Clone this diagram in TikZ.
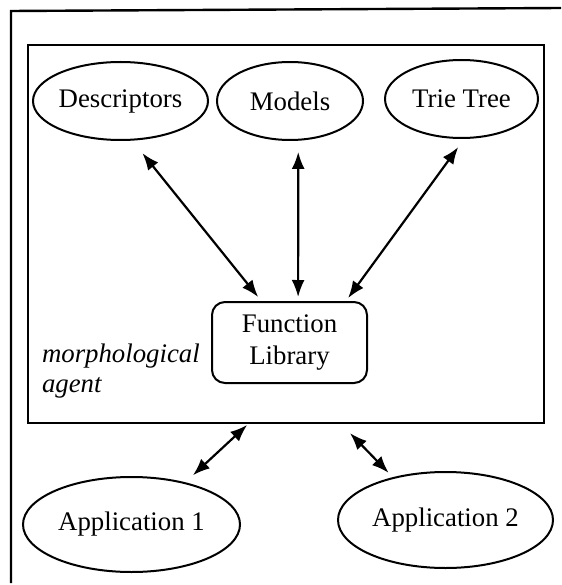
\documentclass[tikz,border=0pt]{standalone}
\usepackage{fontspec}
\setmainfont{Liberation Serif}
\usetikzlibrary{shapes.geometric,arrows.meta}
\begin{document}
\begin{tikzpicture}[x=1pt,y=-1pt,
  every node/.style={outer sep=0pt, inner sep=0pt},
  lbl/.style={font=\fontsize{26.8}{32}\selectfont},
  ilbl/.style={font=\fontsize{26.8}{30}\selectfont\itshape},
  oval/.style={ellipse, draw, line width=2pt, lbl},
  arr/.style={line width=2.2pt, {Latex[length=17pt,width=13pt]}-{Latex[length=17pt,width=13pt]}},
  frameline/.style={line width=2.4pt}
]
\useasboundingbox (0,0) rectangle (561,585);
% outer frame (left and top edges only)
\draw[frameline] (11,583) -- (11,11) -- (561,8);
% agent box
\node[draw, frameline, minimum width=516pt, minimum height=378pt] (agent) at (286,234) {};
% top ellipses
\node[oval, minimum width=175pt, minimum height=78pt] (desc) at (120.5,101) {Descriptors};
\node[oval, minimum width=146pt, minimum height=78pt] (models) at (290,101) {Models};
\node[oval, minimum width=153pt, minimum height=78pt] (trie) at (461.5,99) {Trie Tree};
% function library
\node[draw, line width=2pt, rounded corners=13pt, minimum width=155pt, minimum height=81pt, align=center, lbl] (lib) at (289.5,342.5) {Function\\Library};
% label
\node[ilbl, anchor=base west] (morph1) at (42,362) {morphological};
\node[ilbl, anchor=base west] (morph2) at (42,392) {agent};
% applications
\node[oval, minimum width=217pt, minimum height=95pt] (app1) at (131.5,524.5) {Application 1};
\node[oval, minimum width=215pt, minimum height=96pt] (app2) at (445.5,520) {Application 2};
% connectors
\draw[arr, shorten <=17.3pt, shorten >=6.4pt] (desc.-74.5) -- (lib.124.2);
\draw[arr, shorten <=12.2pt, shorten >=5pt] (models.-78.3) -- (lib.78.1);
\draw[arr, shorten <=11.3pt, shorten >=4.9pt] (trie.-85.3) -- (lib.36.6);
\draw[arr, shorten <=2.9pt, shorten >=11.5pt] (agent.-101.6) -- (app1.38);
\draw[arr, shorten <=14.1pt, shorten >=7.1pt] (agent.-74.6) -- (app2.141.3);
\end{tikzpicture}
\end{document}
